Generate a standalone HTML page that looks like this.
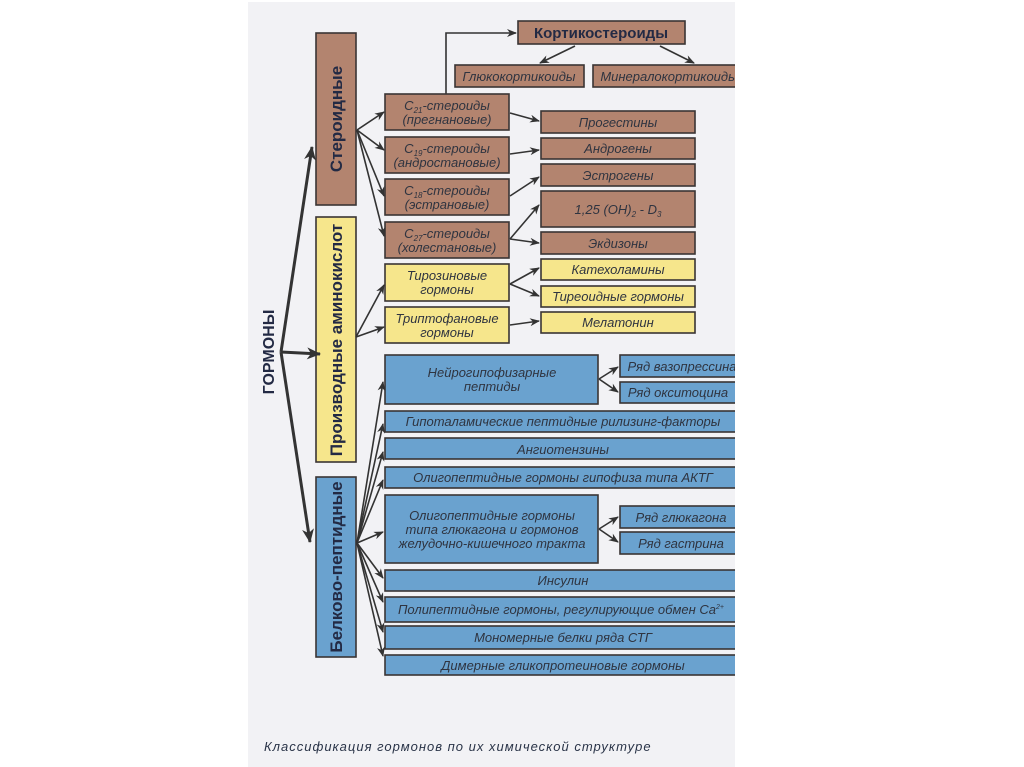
<!DOCTYPE html>
<html><head><meta charset="utf-8"><style>
html,body{margin:0;padding:0;background:#fff;}
svg{display:block;}
text{font-family:"Liberation Sans",sans-serif;}
.b{stroke:#3a3434;stroke-width:1.6;}
.br{fill:#b3846f;}
.ye{fill:#f6e68c;}
.bl{fill:#6aa2cf;}
.t{font-size:13px;font-style:italic;fill:#2f3440;text-anchor:middle;}
.v{font-size:17px;font-weight:bold;fill:#232a44;text-anchor:middle;}
.a{stroke:#333;stroke-width:1.6;fill:none;marker-end:url(#ah);}
.A{stroke:#333;stroke-width:3;fill:none;marker-end:url(#AH);}
</style></head><body>
<svg width="1024" height="767" viewBox="0 0 1024 767" xmlns="http://www.w3.org/2000/svg">
<defs>
<marker id="ah" markerWidth="10" markerHeight="8" refX="9" refY="4" orient="auto" markerUnits="userSpaceOnUse"><path d="M0,0 L10,4 L0,8 L3,4z" fill="#333"/></marker>
<marker id="AH" markerWidth="14" markerHeight="12" refX="13" refY="6" orient="auto" markerUnits="userSpaceOnUse"><path d="M0,0 L14,6 L0,12 L4,6z" fill="#333"/></marker>
<clipPath id="pg"><rect x="0" y="0" width="735" height="767"/></clipPath>
</defs>
<rect x="248" y="2" width="487" height="765" fill="#f2f2f5"/>
<g clip-path="url(#pg)">

<rect class="b br" x="316" y="33" width="40" height="172"/>
<text class="v" transform="translate(342,119) rotate(-90)">Стероидные</text>
<rect class="b ye" x="316" y="217" width="40" height="245"/>
<text class="v" transform="translate(342,340) rotate(-90)">Производные аминокислот</text>
<rect class="b bl" x="316" y="477" width="40" height="180"/>
<text class="v" transform="translate(342,567) rotate(-90)">Белково-пептидные</text>

<text class="v" transform="translate(274,352) rotate(-90)" style="font-size:16px">ГОРМОНЫ</text>

<path class="A" d="M281,352 L312,147"/>
<path class="A" d="M281,352 L320,354"/>
<path class="A" d="M281,352 L310,542"/>

<rect class="b br" x="518" y="21" width="167" height="23"/>
<text x="601" y="38" style="font-size:15px;font-weight:bold;fill:#232a44;text-anchor:middle">Кортикостероиды</text>
<rect class="b br" x="455" y="65" width="129" height="22"/>
<text class="t" x="519" y="81">Глюкокортикоиды</text>
<rect class="b br" x="593" y="65" width="150" height="22"/>
<text class="t" x="669" y="81">Минералокортикоиды</text>
<path class="a" d="M446,94 L446,33 L516,33"/>
<path class="a" d="M575,46 L540,63"/>
<path class="a" d="M660,46 L694,63"/>

<rect class="b br" x="385" y="94" width="124" height="36"/>
<text class="t" x="447" y="110">C<tspan font-size="8" dy="3">21</tspan><tspan dy="-3">-стероиды</tspan></text>
<text class="t" x="447" y="124">(прегнановые)</text>
<rect class="b br" x="385" y="137" width="124" height="36"/>
<text class="t" x="447" y="153">C<tspan font-size="8" dy="3">19</tspan><tspan dy="-3">-стероиды</tspan></text>
<text class="t" x="447" y="167">(андростановые)</text>
<rect class="b br" x="385" y="179" width="124" height="36"/>
<text class="t" x="447" y="195">C<tspan font-size="8" dy="3">18</tspan><tspan dy="-3">-стероиды</tspan></text>
<text class="t" x="447" y="209">(эстрановые)</text>
<rect class="b br" x="385" y="222" width="124" height="36"/>
<text class="t" x="447" y="238">C<tspan font-size="8" dy="3">27</tspan><tspan dy="-3">-стероиды</tspan></text>
<text class="t" x="447" y="252">(холестановые)</text>
<rect class="b ye" x="385" y="264" width="124" height="37"/>
<text class="t" x="447" y="280">Тирозиновые</text>
<text class="t" x="447" y="294">гормоны</text>
<rect class="b ye" x="385" y="307" width="124" height="36"/>
<text class="t" x="447" y="323">Триптофановые</text>
<text class="t" x="447" y="337">гормоны</text>

<path class="a" d="M357,130 L384,112"/>
<path class="a" d="M357,130 L384,150"/>
<path class="a" d="M357,130 L384,196"/>
<path class="a" d="M357,130 L384,236"/>
<path class="a" d="M356,337 L384,285"/>
<path class="a" d="M356,337 L384,327"/>

<rect class="b br" x="541" y="111" width="154" height="22"/><text class="t" x="618" y="127">Прогестины</text>
<rect class="b br" x="541" y="138" width="154" height="21"/><text class="t" x="618" y="153">Андрогены</text>
<rect class="b br" x="541" y="164" width="154" height="22"/><text class="t" x="618" y="180">Эстрогены</text>
<rect class="b br" x="541" y="191" width="154" height="36"/><text class="t" x="618" y="214">1,25 (OH)<tspan font-size="8" dy="3">2</tspan><tspan dy="-3"> - D</tspan><tspan font-size="8" dy="3">3</tspan></text>
<rect class="b br" x="541" y="232" width="154" height="22"/><text class="t" x="618" y="248">Экдизоны</text>
<rect class="b ye" x="541" y="259" width="154" height="21"/><text class="t" x="618" y="274">Катехоламины</text>
<rect class="b ye" x="541" y="286" width="154" height="21"/><text class="t" x="618" y="301">Тиреоидные гормоны</text>
<rect class="b ye" x="541" y="312" width="154" height="21"/><text class="t" x="618" y="327">Мелатонин</text>

<path class="a" d="M510,113 L539,121"/>
<path class="a" d="M510,154 L539,150"/>
<path class="a" d="M510,196 L539,177"/>
<path class="a" d="M510,239 L539,205"/>
<path class="a" d="M510,239 L539,243"/>
<path class="a" d="M510,284 L539,268"/>
<path class="a" d="M510,284 L539,296"/>
<path class="a" d="M510,325 L539,321"/>

<rect class="b bl" x="385" y="355" width="213" height="49"/>
<text class="t" x="492" y="377">Нейрогипофизарные</text><text class="t" x="492" y="391">пептиды</text>
<rect class="b bl" x="620" y="355" width="125" height="22"/><text class="t" x="682" y="371">Ряд вазопрессина</text>
<rect class="b bl" x="620" y="382" width="125" height="21"/><text class="t" x="678" y="397">Ряд окситоцина</text>
<path class="a" d="M599,379 L618,367"/>
<path class="a" d="M599,379 L618,392"/>

<rect class="b bl" x="385" y="411" width="360" height="21"/><text class="t" x="563" y="426">Гипоталамические пептидные рилизинг-факторы</text>
<rect class="b bl" x="385" y="438" width="360" height="21"/><text class="t" x="563" y="454">Ангиотензины</text>
<rect class="b bl" x="385" y="467" width="360" height="21"/><text class="t" x="563" y="482">Олигопептидные гормоны гипофиза типа АКТГ</text>

<rect class="b bl" x="385" y="495" width="213" height="68"/>
<text class="t" x="492" y="520">Олигопептидные гормоны</text>
<text class="t" x="492" y="534">типа глюкагона и гормонов</text>
<text class="t" x="492" y="548">желудочно-кишечного тракта</text>
<rect class="b bl" x="620" y="506" width="125" height="22"/><text class="t" x="681" y="522">Ряд глюкагона</text>
<rect class="b bl" x="620" y="532" width="125" height="22"/><text class="t" x="681" y="548">Ряд гастрина</text>
<path class="a" d="M599,529 L618,517"/>
<path class="a" d="M599,529 L618,542"/>

<rect class="b bl" x="385" y="570" width="360" height="21"/><text class="t" x="563" y="585">Инсулин</text>
<rect class="b bl" x="385" y="597" width="360" height="25"/><text class="t" x="561" y="614">Полипептидные гормоны, регулирующие обмен Ca<tspan font-size="7" dy="-5">2+</tspan></text>
<rect class="b bl" x="385" y="626" width="360" height="23"/><text class="t" x="563" y="642">Мономерные белки ряда СТГ</text>
<rect class="b bl" x="385" y="655" width="360" height="20"/><text class="t" x="563" y="670">Димерные гликопротеиновые гормоны</text>

<path class="a" d="M357,543 L383,382"/>
<path class="a" d="M357,543 L383,424"/>
<path class="a" d="M357,543 L383,452"/>
<path class="a" d="M357,543 L383,480"/>
<path class="a" d="M357,543 L383,532"/>
<path class="a" d="M357,543 L383,578"/>
<path class="a" d="M357,543 L383,602"/>
<path class="a" d="M357,543 L383,632"/>
<path class="a" d="M357,543 L383,656"/>
</g>

<text x="264" y="751" style="font-size:13px;font-style:italic;fill:#2a3448;letter-spacing:1px">Классификация гормонов по их химической структуре</text>
</svg>
</body></html>
